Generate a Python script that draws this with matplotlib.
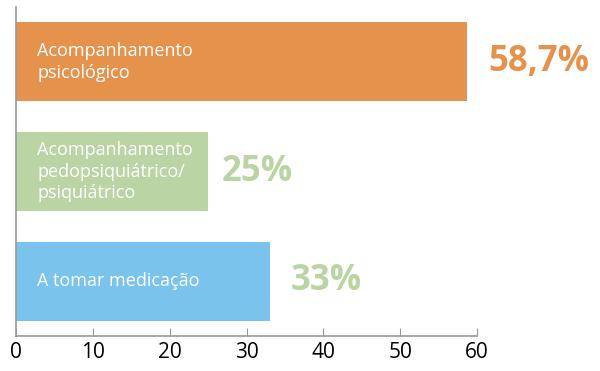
import numpy as np
from matplotlib import pyplot as plt

# data, top bar first
categories = ['Acompanhamento\npsicológico',
              'Acompanhamento\npedopsiquiátrico/\npsiquiátrico',
              'A tomar medicação']
values = [58.7, 25, 33]
value_labels = ['58,7%', '25%', '33%']
xticks = [0, 10, 20, 30, 40, 50, 60]

bar_colors = ['#E5924D', '#BAD5A3', '#7AC3EC']
label_colors = ['#E5924D', '#BAD5A3', '#BAD5A3']
label_offsets = [15, 9.5, 15]

plt.rcParams['font.family'] = ['Open Sans', 'DejaVu Sans']

fig = plt.figure(figsize=(6, 3.71), dpi=100)
ax = fig.add_axes([0.027, 0.094, 0.768, 0.887])

y = np.arange(len(values))[::-1]
bars = ax.barh(y, values, height=0.72, color=bar_colors)

for yi, cat in zip(y, categories):
    ax.annotate(cat, (0, yi), xytext=(15, 0), textcoords='offset points',
                va='center', ha='left', color='white', fontsize=13,
                linespacing=1.25)

for yi, v, lab, c, off in zip(y, values, value_labels, label_colors, label_offsets):
    ax.annotate(lab, (v, yi), xytext=(off, 0), textcoords='offset points',
                va='center', ha='left', color=c, fontsize=25, fontweight='bold')

ax.set_xlim(0, 60)
ax.set_ylim(-0.5, 2.5)
ax.set_xticks(xticks)
ax.set_yticks([])
ax.tick_params(axis='x', direction='in', length=6, color='#999999',
               labelsize=15, pad=4, labelcolor='black')
for s in ['top', 'right']:
    ax.spines[s].set_visible(False)
for s in ['left', 'bottom']:
    ax.spines[s].set_color('#999999')
    ax.spines[s].set_linewidth(1.2)
ax.spines['bottom'].set_bounds(0, 60)

fig.savefig('out.png', dpi=100)
